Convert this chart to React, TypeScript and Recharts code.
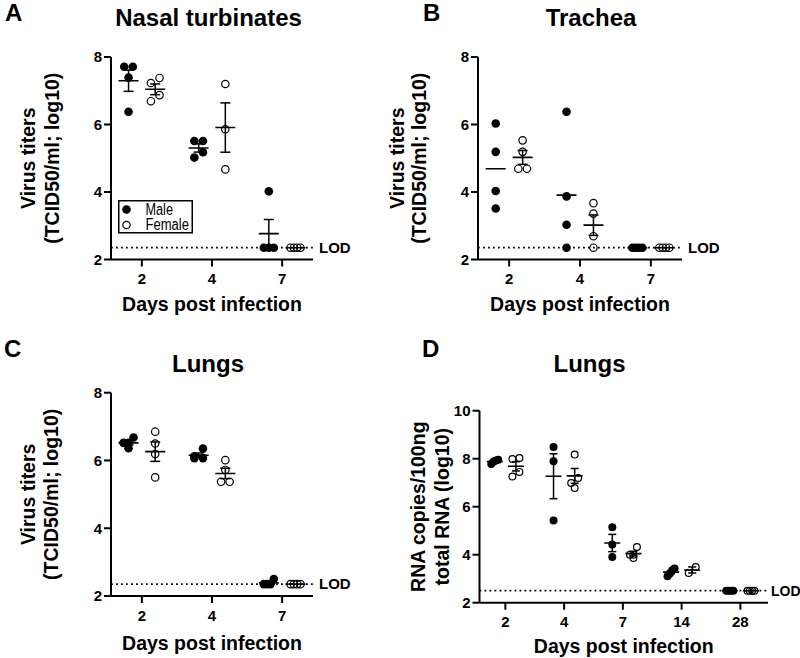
import { ScatterChart, Scatter, XAxis, YAxis, ErrorBar, ReferenceLine, Legend } from "recharts";

// days post infection (category labels)
const titerDays = ["2", "4", "7"];
const rnaDays = ["2", "4", "7", "14", "28"];

// limits of detection (log10)
const titerLod = 2.35;
const rnaLod = 2.5;

// A - nasal turbinates, TCID50/ml log10, one array per day
const nasalMale = [[7.71, 7.71, 7.39, 6.38], [5.51, 5.51, 5.18, 5.02], [4.02, 2.35, 2.35, 2.35]];
const nasalFemale = [[7.38, 7.23, 6.87, 6.69], [7.2, 5.86, 4.67], [2.35, 2.35, 2.35, 2.35]];

// B - trachea
const tracheaMale = [[6.03, 5.19, 4.03, 3.51], [6.38, 3.87, 3.03, 2.35], [2.35, 2.35, 2.35, 2.35]];
const tracheaFemale = [[5.53, 5.19, 4.69, 4.69], [3.67, 3.36, 2.69, 2.35], [2.35, 2.35, 2.35, 2.35]];

// C - lungs, virus titers
const lungMale = [[6.68, 6.52, 6.52, 6.36], [6.35, 6.12, 6.07, 6.07], [2.5, 2.35, 2.35, 2.35]];
const lungFemale = [[6.85, 6.5, 6.19, 5.5], [6.01, 5.72, 5.37, 5.37], [2.35, 2.35, 2.35, 2.35]];

// D - lungs, RNA copies/100ng total RNA log10
const rnaMale = [[7.96, 7.92, 7.88, 7.78], [8.49, 7.89, 5.43], [5.14, 4.42, 3.9], [3.42, 3.35, 3.22, 3.1], [2.5, 2.5, 2.5, 2.5]];
const rnaFemale = [[8.03, 7.99, 7.45, 7.26], [8.17, 7.2, 6.99, 6.78], [4.32, 4.0, 4.0, 3.86], [3.49, 3.24], [2.5, 2.5, 2.5, 2.5]];

const sexes = ["Male", "Female"];

const FONT = "'Liberation Sans', Arial, Helvetica, sans-serif";
const axisStroke = { stroke: "#000", strokeWidth: 2 };
const tickStyle = { fill: "#000", fontSize: 15, fontWeight: 700 };

const avg = (v: number[]) => v.reduce((s, x) => s + x, 0) / v.length;
const sem = (v: number[]) => {
  if (v.length < 2) return 0;
  const m = avg(v);
  const sd = Math.sqrt(v.reduce((s, x) => s + (x - m) * (x - m), 0) / (v.length - 1));
  return sd / Math.sqrt(v.length);
};

// rough GraphPad-like scatter: points closer than a dot diameter share a row
function swarm(values: number[], ppuY: number, d: number, maxSpread: number) {
  const order = values.map((_, i) => i).sort((a, b) => values[b] - values[a]);
  const offs = values.map(() => 0);
  let i = 0;
  while (i < order.length) {
    const row = [order[i]];
    let j = i + 1;
    while (j < order.length && (values[order[i]] - values[order[j]]) * ppuY < d) {
      row.push(order[j]);
      j++;
    }
    row.sort((a, b) => values[a] - values[b]);
    const n = row.length;
    const gap = n > 1 ? Math.min(d, maxSpread / (n - 1)) : 0;
    row.forEach((k, m) => {
      offs[k] = (m - (n - 1) / 2) * gap;
    });
    i = j;
  }
  return offs;
}

type Layout = {
  left: number;
  top: number;
  width: number;
  height: number;
  yAxisWidth: number;
  marginTop: number;
  marginRight: number;
  xAxisHeight: number;
  xDomain: [number, number];
  yDomain: [number, number];
  yTicks: number[];
  sexOffset: number;
  r: number;
  maxSpread: number;
  meanHalf: number;
  capHalf: number;
  lodOffset: number;
  lodFont: number;
  xLabelDy: number;
  yLabelDx: number[];
};

type PanelProps = {
  layout: Layout;
  days: string[];
  male: number[][];
  female: number[][];
  lod: number;
  yLines: string[];
  maleSem?: boolean;
  legend?: boolean;
};

const legendText: Record<string, number> = { Male: 27.5, Female: 43.5 };

function LegendBox({ payload }: any) {
  const items = (payload || [])
    .filter((p: any) => sexes.includes(p.value))
    .sort((a: any, b: any) => sexes.indexOf(a.value) - sexes.indexOf(b.value));
  return (
    <svg width={76} height={34} style={{ display: "block", overflow: "visible" }}>
      <rect x={0.75} y={0.75} width={73.5} height={32} fill="#fff" stroke="#000" strokeWidth={1.5} />
      {items.map((p: any, i: number) => (
        <g key={p.value}>
          <circle
            cx={8.5}
            cy={9.5 + i * 15.5}
            r={p.value === "Male" ? 4.3 : 3.7}
            fill={p.value === "Male" ? "#000" : "none"}
            stroke="#000"
            strokeWidth={p.value === "Male" ? 0 : 1.2}
          />
          <text
            x={27.5}
            y={14.5 + i * 15.5}
            fontSize={16}
            fill="#000"
            textLength={legendText[p.value]}
            lengthAdjust="spacingAndGlyphs"
          >
            {p.value}
          </text>
        </g>
      ))}
    </svg>
  );
}

function Panel({ layout: c, days, male, female, lod, yLines, maleSem = true, legend = false }: PanelProps) {
  const plotW = c.width - c.yAxisWidth - c.marginRight;
  const plotH = c.height - c.marginTop - c.xAxisHeight;
  const ppuX = plotW / (c.xDomain[1] - c.xDomain[0]);
  const ppuY = plotH / (c.yDomain[1] - c.yDomain[0]);

  const points = (groups: number[][], side: number) =>
    groups.flatMap((vals, i) => {
      const offs = swarm(vals, ppuY, 2 * c.r, c.maxSpread);
      return vals.map((y, k) => ({ x: i + 1 + side * c.sexOffset + offs[k] / ppuX, y }));
    });
  const stats = (groups: number[][], side: number, withSem: boolean) =>
    groups.map((vals, i) => ({ x: i + 1 + side * c.sexOffset, y: avg(vals), sem: withSem ? sem(vals) : 0 }));

  const meanLine = (p: any) => (
    <line x1={p.cx - c.meanHalf} x2={p.cx + c.meanHalf} y1={p.cy} y2={p.cy} stroke="#000" strokeWidth={1.6} />
  );
  const maleDot = (p: any) => <circle cx={p.cx} cy={p.cy} r={c.r} fill="#000" />;
  const femaleDot = (p: any) => (
    <circle cx={p.cx} cy={p.cy} r={c.r - 0.6} fill="none" stroke="#000" strokeWidth={1.2} />
  );

  const yLabel = () => {
    const cy = c.marginTop + plotH / 2;
    return (
      <g>
        {yLines.map((t, i) => {
          const cx = c.yAxisWidth - c.yLabelDx[i];
          return (
            <text
              key={t}
              x={cx}
              y={cy}
              transform={`rotate(-90 ${cx} ${cy})`}
              textAnchor="middle"
              dominantBaseline="central"
              fontSize={19.5}
              fontWeight={700}
              fill="#000"
            >
              {t}
            </text>
          );
        })}
      </g>
    );
  };
  const xLabel = () => (
    <text
      x={c.yAxisWidth + plotW / 2}
      y={c.height - c.xAxisHeight + c.xLabelDy}
      textAnchor="middle"
      fontSize={19.5}
      fontWeight={700}
      fill="#000"
    >
      Days post infection
    </text>
  );

  return (
    <div style={{ position: "absolute", left: c.left, top: c.top }}>
      <ScatterChart
        width={c.width}
        height={c.height}
        margin={{ top: c.marginTop, right: c.marginRight, bottom: 0, left: 0 }}
      >
        <XAxis
          type="number"
          dataKey="x"
          domain={c.xDomain}
          allowDataOverflow
          ticks={days.map((_, i) => i + 1)}
          interval={0}
          tickFormatter={(v: number) => days[v - 1]}
          height={c.xAxisHeight}
          axisLine={axisStroke}
          tickLine={axisStroke}
          tickSize={7}
          tickMargin={7}
          tick={tickStyle}
          label={xLabel}
        />
        <YAxis
          type="number"
          dataKey="y"
          domain={c.yDomain}
          allowDataOverflow
          ticks={c.yTicks}
          interval={0}
          width={c.yAxisWidth}
          axisLine={axisStroke}
          tickLine={axisStroke}
          tickSize={7}
          tickMargin={2}
          tick={tickStyle}
          label={yLabel}
        />
        <ReferenceLine
          y={lod}
          stroke="#000"
          strokeWidth={1.8}
          strokeDasharray="1.8 3.2"
          label={{ value: "LOD", position: "right", offset: c.lodOffset, fill: "#000", fontSize: c.lodFont, fontWeight: 700 }}
        />
        <Scatter name="Male" data={points(male, -1)} shape={maleDot} isAnimationActive={false} />
        <Scatter name="Female" data={points(female, 1)} shape={femaleDot} isAnimationActive={false} />
        <Scatter legendType="none" data={stats(male, -1, maleSem)} shape={meanLine} isAnimationActive={false}>
          <ErrorBar dataKey="sem" direction="y" width={c.capHalf} stroke="#000" strokeWidth={1.5} isAnimationActive={false} />
        </Scatter>
        <Scatter legendType="none" data={stats(female, 1, true)} shape={meanLine} isAnimationActive={false}>
          <ErrorBar dataKey="sem" direction="y" width={c.capHalf} stroke="#000" strokeWidth={1.5} isAnimationActive={false} />
        </Scatter>
        {legend && (
          <Legend
            layout="vertical"
            align="center"
            verticalAlign="middle"
            content={LegendBox}
            wrapperStyle={{ left: 118, top: 200, width: 76, height: 34 }}
          />
        )}
      </ScatterChart>
    </div>
  );
}

const base = {
  xDomain: [0.56, 3.44] as [number, number],
  yDomain: [2, 8] as [number, number],
  yTicks: [2, 4, 6, 8],
  sexOffset: 0.19,
  r: 4.3,
  maxSpread: 10,
  meanHalf: 10,
  capHalf: 5,
  lodOffset: 6,
  lodFont: 15,
};

const layoutA: Layout = {
  ...base,
  left: 0, top: 0, width: 400, height: 320,
  yAxisWidth: 111, marginTop: 57, marginRight: 87, xAxisHeight: 60.5,
  xLabelDy: 51, yLabelDx: [83, 59.5],
};
const layoutB: Layout = {
  ...base,
  left: 370, top: 0, width: 430, height: 320,
  yAxisWidth: 108, marginTop: 57, marginRight: 118, xAxisHeight: 60.5,
  xLabelDy: 51, yLabelDx: [81.5, 59],
};
const layoutC: Layout = {
  ...base,
  left: 0, top: 320, width: 400, height: 338,
  yAxisWidth: 111, marginTop: 72.7, marginRight: 87, xAxisHeight: 62,
  xLabelDy: 54, yLabelDx: [83, 59.5],
};
const layoutD: Layout = {
  ...base,
  left: 370, top: 320, width: 430, height: 338,
  yAxisWidth: 109.5, marginTop: 90.7, marginRight: 32, xAxisHeight: 55.3,
  xDomain: [0.56, 5.47], yDomain: [2, 10], yTicks: [2, 4, 6, 8, 10],
  sexOffset: 0.18, r: 4, maxSpread: 7, meanHalf: 8, capHalf: 4,
  lodOffset: 3, lodFont: 14,
  xLabelDy: 50, yLabelDx: [61.5, 37.5],
};

const titles = [
  { letter: "A", lx: 5, ly: 21, title: "Nasal turbinates", tx: 208.5, ty: 26 },
  { letter: "B", lx: 423, ly: 20.5, title: "Trachea", tx: 591, ty: 25.5 },
  { letter: "C", lx: 4, ly: 357, title: "Lungs", tx: 208, ty: 372 },
  { letter: "D", lx: 422, ly: 357, title: "Lungs", tx: 589.5, ty: 372 },
];

export default function App() {
  return (
    <div style={{ position: "absolute", left: 0, top: 0, width: 800, height: 658, background: "#fff", fontFamily: FONT }}>
      <Panel layout={layoutA} days={titerDays} male={nasalMale} female={nasalFemale} lod={titerLod}
        yLines={["Virus titers", "(TCID50/ml; log10)"]} legend />
      <Panel layout={layoutB} days={titerDays} male={tracheaMale} female={tracheaFemale} lod={titerLod}
        yLines={["Virus titers", "(TCID50/ml; log10)"]} maleSem={false} />
      <Panel layout={layoutC} days={titerDays} male={lungMale} female={lungFemale} lod={titerLod}
        yLines={["Virus titers", "(TCID50/ml; log10)"]} />
      <Panel layout={layoutD} days={rnaDays} male={rnaMale} female={rnaFemale} lod={rnaLod}
        yLines={["RNA copies/100ng", "total RNA (log10)"]} />
      <svg width={800} height={658} style={{ position: "absolute", left: 0, top: 0, pointerEvents: "none" }}>
        {titles.map((t) => (
          <g key={t.letter} fill="#000" fontWeight={700} fontSize={24}>
            <text x={t.lx} y={t.ly}>{t.letter}</text>
            <text x={t.tx} y={t.ty} textAnchor="middle">{t.title}</text>
          </g>
        ))}
      </svg>
    </div>
  );
}
